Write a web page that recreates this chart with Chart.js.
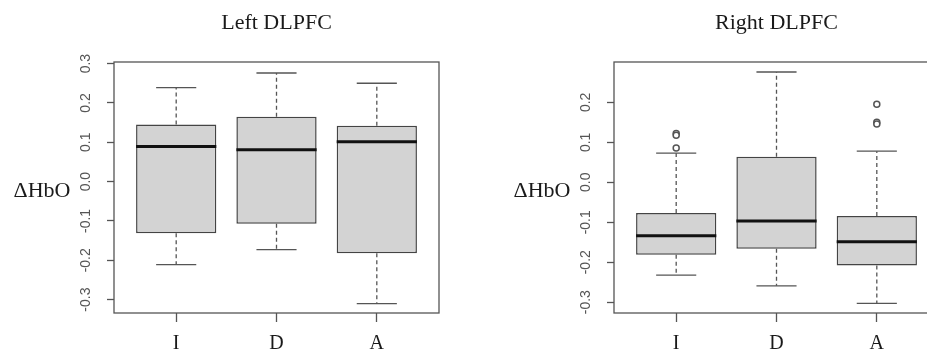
<!DOCTYPE html>
<html>
<head>
<meta charset="utf-8">
<script src="https://cdn.jsdelivr.net/npm/chart.js@4.4.1/dist/chart.umd.min.js"></script>
<style>
    html, body { margin: 0; padding: 0; background: #fff; overflow: hidden; }
    body { width: 927px; height: 358px; position: relative; }
    canvas { position: absolute; top: 0; }
    #leftChart { left: 0; }
    #rightChart { left: 464px; }
</style>
</head>
<body>
<canvas id="leftChart" width="464" height="358"></canvas>
<canvas id="rightChart" width="500" height="358"></canvas>
<script>
const groups = ['I', 'D', 'A'];

// Left DLPFC: whisker ends, quartiles, medians
const leftTicks = [-0.3, -0.2, -0.1, 0.0, 0.1, 0.2, 0.3];
const leftLow = [-0.211, -0.173, -0.310];
const leftQ1 = [-0.131, -0.107, -0.182];
const leftMedian = [0.089, 0.081, 0.101];
const leftQ3 = [0.145, 0.165, 0.142];
const leftHigh = [0.239, 0.276, 0.250];
const leftOutliers = [[], [], []];

// Right DLPFC
const rightTicks = [-0.3, -0.2, -0.1, 0.0, 0.1, 0.2];
const rightLow = [-0.232, -0.259, -0.303];
const rightQ1 = [-0.181, -0.166, -0.208];
const rightMedian = [-0.134, -0.097, -0.149];
const rightQ3 = [-0.077, 0.064, -0.084];
const rightHigh = [0.073, 0.276, 0.078];
const rightOutliers = [[0.122, 0.118, 0.086], [], [0.195, 0.150, 0.146]];

const serif = "'Liberation Serif', 'Times New Roman', serif";
const sans = "'Liberation Sans', Arial, sans-serif";

const boxExtras = {
    id: 'boxExtras',
    afterDatasetsDraw(chart, args, opts) {
        const ctx = chart.ctx;
        const area = chart.chartArea;
        const xs = chart.scales.x;
        const ys = chart.scales.y;
        const capHalf = xs.getPixelForValue(1.2) - xs.getPixelForValue(1);
        const boxHalf = xs.getPixelForValue(1.4) - xs.getPixelForValue(1);

        ctx.save();
        opts.median.forEach((med, i) => {
            const cx = xs.getPixelForValue(i + 1);
            const yLow = ys.getPixelForValue(opts.low[i]);
            const yHigh = ys.getPixelForValue(opts.high[i]);
            const yQ1 = ys.getPixelForValue(opts.q1[i]);
            const yQ3 = ys.getPixelForValue(opts.q3[i]);

            // dashed whiskers
            ctx.strokeStyle = '#555';
            ctx.lineWidth = 1.3;
            ctx.setLineDash([4, 3]);
            ctx.beginPath();
            ctx.moveTo(cx, yQ1);
            ctx.lineTo(cx, yLow);
            ctx.moveTo(cx, yQ3);
            ctx.lineTo(cx, yHigh);
            ctx.stroke();

            // caps
            ctx.setLineDash([]);
            ctx.beginPath();
            ctx.moveTo(cx - capHalf, yLow);
            ctx.lineTo(cx + capHalf, yLow);
            ctx.moveTo(cx - capHalf, yHigh);
            ctx.lineTo(cx + capHalf, yHigh);
            ctx.stroke();

            // median
            ctx.strokeStyle = '#111';
            ctx.lineWidth = 3;
            ctx.beginPath();
            ctx.moveTo(cx - boxHalf, ys.getPixelForValue(med));
            ctx.lineTo(cx + boxHalf, ys.getPixelForValue(med));
            ctx.stroke();
        });

        // frame
        ctx.strokeStyle = '#555';
        ctx.lineWidth = 1.3;
        ctx.strokeRect(area.left, area.top, area.right - area.left, area.bottom - area.top);

        // rotated y tick labels
        ctx.fillStyle = '#555';
        ctx.font = '14px ' + sans;
        ctx.textAlign = 'center';
        ctx.textBaseline = 'middle';
        opts.ticks.forEach(v => {
            ctx.save();
            ctx.translate(area.left - 28, ys.getPixelForValue(v));
            ctx.rotate(-Math.PI / 2);
            ctx.fillText(v.toFixed(1), 0, 0);
            ctx.restore();
        });

        // title and y label
        ctx.fillStyle = '#1a1a1a';
        ctx.font = '22px ' + serif;
        ctx.textBaseline = 'alphabetic';
        ctx.fillText(opts.title, (area.left + area.right) / 2, 29);
        ctx.fillText('\u0394HbO', area.left - 72, (area.top + area.bottom) / 2 + 9);
        ctx.restore();
    }
};

function makeChart(canvasId, title, ticks, low, q1, median, q3, high, outliers, yMin, yMax, yWidth) {
    const boxes = groups.map((g, i) => ({ x: i + 1, y: [q1[i], q3[i]] }));
    const points = [];
    outliers.forEach((list, i) => list.forEach(v => points.push({ x: i + 1, y: v })));

    return new Chart(document.getElementById(canvasId), {
        type: 'bar',
        data: {
            datasets: [{
                data: boxes,
                backgroundColor: '#d3d3d3',
                borderColor: '#444',
                borderWidth: 1.5,
                borderSkipped: false,
                categoryPercentage: 1,
                barPercentage: 0.8
            }, {
                type: 'scatter',
                data: points,
                pointRadius: 3,
                pointBackgroundColor: '#fff',
                pointBorderColor: '#555',
                pointBorderWidth: 1.5
            }]
        },
        options: {
            responsive: false,
            animation: false,
            devicePixelRatio: 1,
            layout: { padding: { top: 62, right: 25, left: 0, bottom: 0 } },
            plugins: {
                legend: { display: false },
                tooltip: { enabled: false },
                boxExtras: { title: title, ticks: ticks, low: low, q1: q1, median: median, q3: q3, high: high }
            },
            scales: {
                x: {
                    type: 'linear',
                    offset: false,
                    min: 0.38,
                    max: 3.62,
                    afterBuildTicks: axis => { axis.ticks = groups.map((g, i) => ({ value: i + 1 })); },
                    afterFit: axis => { axis.height = 45; },
                    grid: { offset: false, drawOnChartArea: false, tickLength: 9, tickColor: '#555', tickWidth: 1.3 },
                    border: { display: false },
                    ticks: {
                        padding: 10,
                        color: '#1a1a1a',
                        font: { family: serif, size: 20 },
                        callback: v => groups[v - 1]
                    }
                },
                y: {
                    min: yMin,
                    max: yMax,
                    afterBuildTicks: axis => { axis.ticks = ticks.map(v => ({ value: v })); },
                    afterFit: axis => { axis.width = yWidth; },
                    grid: { drawOnChartArea: false, tickLength: 7, tickColor: '#555', tickWidth: 1.3 },
                    border: { display: false },
                    ticks: { display: false }
                }
            }
        },
        plugins: [boxExtras]
    });
}

makeChart('leftChart', 'Left DLPFC', leftTicks, leftLow, leftQ1, leftMedian, leftQ3, leftHigh, leftOutliers, -0.334, 0.304, 114);
makeChart('rightChart', 'Right DLPFC', rightTicks, rightLow, rightQ1, rightMedian, rightQ3, rightHigh, rightOutliers, -0.327, 0.301, 150);
</script>
</body>
</html>
